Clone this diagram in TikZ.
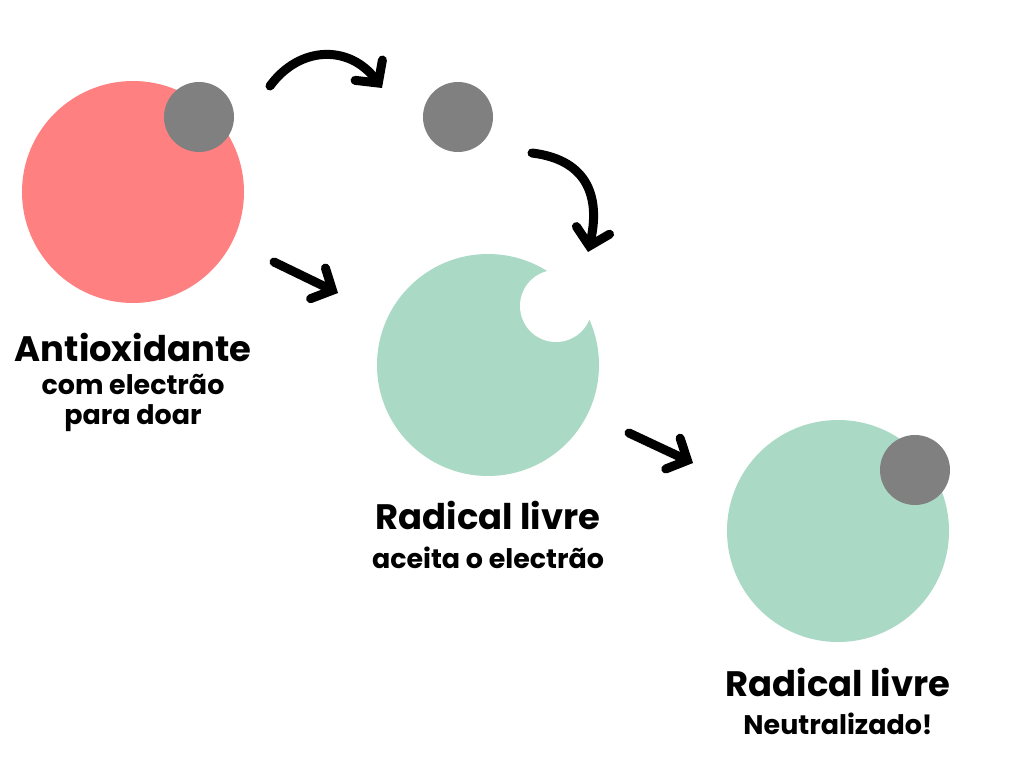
\documentclass[tikz,border=0pt]{standalone}
\usepackage{fontspec}
\setmainfont{Poppins}
\usetikzlibrary{arrows.meta}
\definecolor{pinkc}{HTML}{FF8080}
\definecolor{greenc}{HTML}{AAD9C5}
\definecolor{grayc}{HTML}{808080}
\begin{document}
\begin{tikzpicture}[x=1bp,y=-1bp,
  arr/.style={line width=9bp,line cap=round,-{Straight Barb[length=16bp,width=34bp,line cap=round]}},
  big/.style={font=\fontsize{35.5}{38}\selectfont\bfseries},
  small/.style={font=\fontsize{27}{30}\selectfont\bfseries}]
\useasboundingbox (0,0) rectangle (1024,768);
\fill[white] (0,0) rectangle (1024,768);
\node[circle,fill=pinkc,minimum size=222bp,inner sep=0] (anti) at (133,192) {};
\node[circle,fill=grayc,minimum size=70bp,inner sep=0] (e1) at (199,117) {};
\node[circle,fill=grayc,minimum size=70bp,inner sep=0] (e2) at (458,117) {};
\node[circle,fill=greenc,minimum size=222bp,inner sep=0] (rad) at (488,365) {};
\node[circle,fill=white,minimum size=72bp,inner sep=0] (hole) at (556,306) {};
\node[circle,fill=greenc,minimum size=222bp,inner sep=0] (neu) at (838,531) {};
\node[circle,fill=grayc,minimum size=70bp,inner sep=0] (e3) at (915,470) {};
\coordinate (a1s) at (270,86); \coordinate (a1e) at (382,88);
\coordinate (a2s) at (532,153); \coordinate (a2e) at (588,252);
\coordinate (a3s) at (274,262); \coordinate (a3e) at (338,293);
\coordinate (a4s) at (629,433); \coordinate (a4e) at (693,463);
\draw[arr] (a1s) .. controls (300,45) and (350,45) .. (a1e);
\draw[arr] (a2s) .. controls (590,160) and (600,200) .. (a2e);
\draw[arr] (a3s) -- (a3e);
\draw[arr] (a4s) -- (a4e);
\node[big] (t1) at (133,347) {Antioxidante};
\node[small] (t2) at (133,384) {com electrão};
\node[small] (t3) at (133,418) {para doar};
\node[big] (t4) at (488,515) {Radical livre};
\node[small] (t5) at (488,558) {aceita o electrão};
\node[big] (t6) at (838,682) {Radical livre};
\node[small] (t7) at (838,724) {Neutralizado!};
\end{tikzpicture}
\end{document}
